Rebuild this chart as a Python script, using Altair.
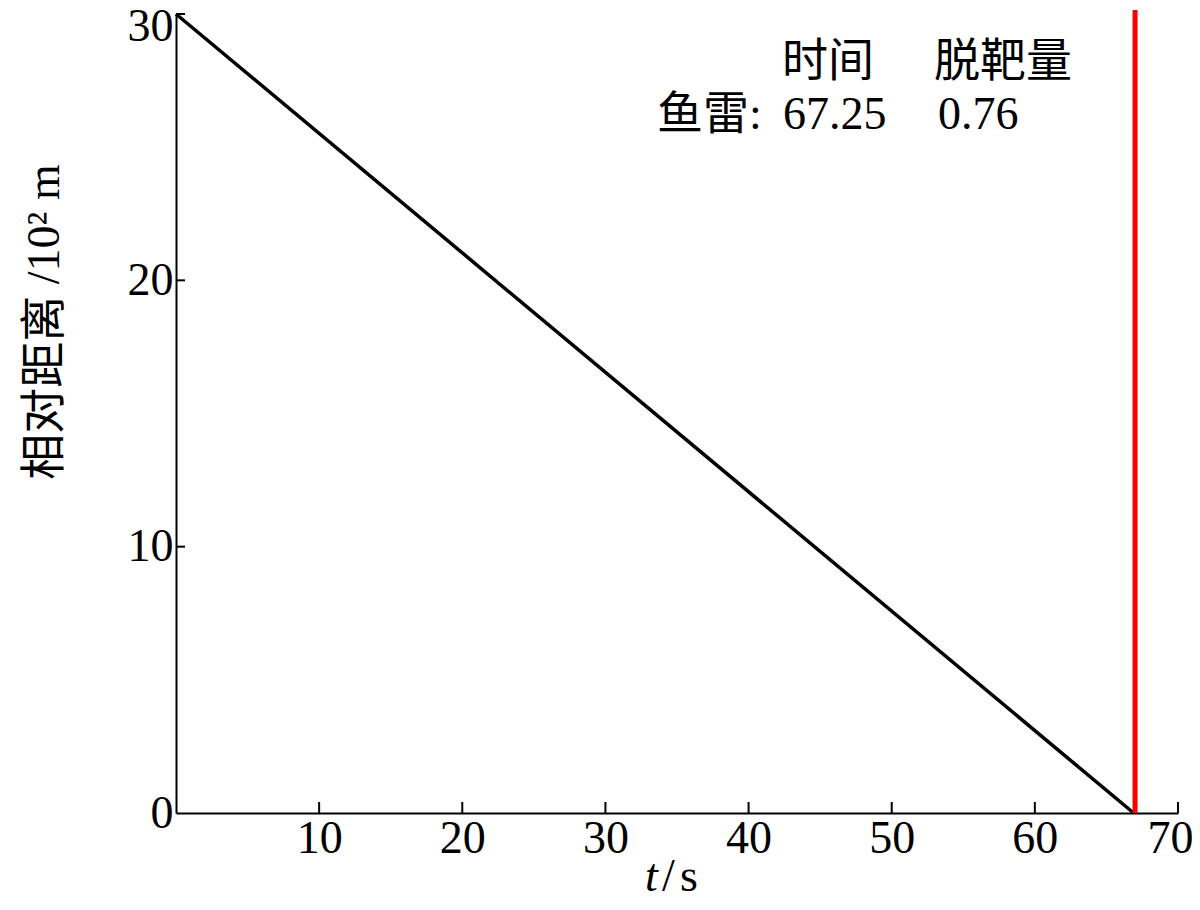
import altair as alt
import pandas as pd

# ---- data ----
line_t = [0.0, 66.9]          # time (s)
line_d = [30.0, 0.0]          # relative distance (10^2 m)
marker_t = [67.0]             # red vertical line position
marker_d0 = [0.0]
marker_d1 = [30.15]
x_ticks = [10, 20, 30, 40, 50, 60, 70]
y_ticks = [10, 20, 30]
x_label_values = [0, 10, 20, 30, 40, 50, 60, 70]
y_label_values = [0, 10, 20, 30]
header_texts = ["时间", "脱靶量"]
row_label = ["鱼雷:"]
row_values = ["67.25", "0.76"]
y_title = ["相对距离\u00a0/10²\u00a0m"]
x_title_parts = ["t", "/", "s"]
x_title_styles = ["italic", "normal", "normal"]

SERIF = "Liberation Serif, Noto Sans CJK SC"
FS = 46
W, H = 1002, 799

line_df = pd.DataFrame({"t": line_t, "d": line_d})
marker_df = pd.DataFrame({"t": marker_t, "d0": marker_d0, "d1": marker_d1})
xt_df = pd.DataFrame({"t": x_ticks})
yt_df = pd.DataFrame({"d": y_ticks})

xscale = alt.Scale(domain=[0, 70], nice=False, zero=False)
yscale = alt.Scale(domain=[0, 30], nice=False, zero=False)

xaxis = alt.Axis(values=x_label_values, labelExpr="datum.value == 0 ? '' : datum.label",
                 tickSize=0, labelPadding=3, labelFont=SERIF, labelFontSize=FS,
                 labelColor="black", domainColor="black", domainWidth=2, grid=False,
                 title=None, labelFlush=False,
                 labelOffset={"condition": {"test": "datum.value == 70", "value": -8}, "value": 0})
yaxis = alt.Axis(values=y_label_values, tickSize=0, labelPadding=3, labelFont=SERIF,
                 labelFontSize=FS, labelColor="black", domainColor="black", domainWidth=2,
                 grid=False, title=None, labelFlush=False,
                 labelOffset={"condition": {"test": "datum.value == 30", "value": 12}, "value": 0})

base_line = alt.Chart(line_df).mark_line(color="black", strokeWidth=3.5).encode(
    x=alt.X("t:Q", scale=xscale, axis=xaxis),
    y=alt.Y("d:Q", scale=yscale, axis=yaxis),
)

red = alt.Chart(marker_df).mark_rule(color="#ff0000", strokeWidth=5, clip=False).encode(
    x=alt.X("t:Q", scale=xscale),
    y=alt.Y("d0:Q", scale=yscale),
    y2="d1:Q",
)

xticks = alt.Chart(xt_df).mark_rule(color="black", strokeWidth=2).encode(
    x=alt.X("t:Q", scale=xscale),
    y=alt.value(H),
    y2=alt.value(H - 11),
)
yticks = alt.Chart(yt_df).mark_rule(color="black", strokeWidth=2).encode(
    y=alt.Y("d:Q", scale=yscale),
    x=alt.value(0),
    x2=alt.value(9),
)

def txt(df, **kw):
    return alt.Chart(df).mark_text(font=SERIF, fontSize=FS, color="black", **kw)

hdr_df = pd.DataFrame({"s": header_texts, "px": [652, 827]})
header = txt(hdr_df, align="center", baseline="middle").encode(
    text="s:N", x=alt.X("px:Q", scale=None), y=alt.value(48))

rl_df = pd.DataFrame({"s": row_label})
rowlab = txt(rl_df, align="left", baseline="middle").encode(
    text="s:N", x=alt.value(481), y=alt.value(101))

rv_df = pd.DataFrame({"s": row_values, "px": [607, 762]})
rowval = txt(rv_df, align="left", baseline="middle").encode(
    text="s:N", x=alt.X("px:Q", scale=None), y=alt.value(101))

yt_title = txt(pd.DataFrame({"s": y_title}), align="center", baseline="middle", angle=270).encode(
    text="s:N", x=alt.value(-131), y=alt.value(308))

xt_df2 = pd.DataFrame({"s": x_title_parts, "st": x_title_styles, "px": [469, 486, 504]})
xt_italic = txt(xt_df2[xt_df2.st == "italic"], align="left", baseline="alphabetic", fontStyle="italic").encode(
    text="s:N", x=alt.X("px:Q", scale=None), y=alt.value(877))
xt_normal = txt(xt_df2[xt_df2.st == "normal"], align="left", baseline="alphabetic").encode(
    text="s:N", x=alt.X("px:Q", scale=None), y=alt.value(877))

chart = alt.layer(base_line, red, xticks, yticks, header, rowlab, rowval, yt_title,
                  xt_italic, xt_normal).properties(
    width=W, height=H,
    autosize=alt.AutoSizeParams(type="none"),
    padding={"left": 168, "top": 6, "right": 14, "bottom": 89},
    background="white",
).configure_view(stroke=None)

chart.save("out.html", embed_options={"renderer": "svg", "actions": False})
